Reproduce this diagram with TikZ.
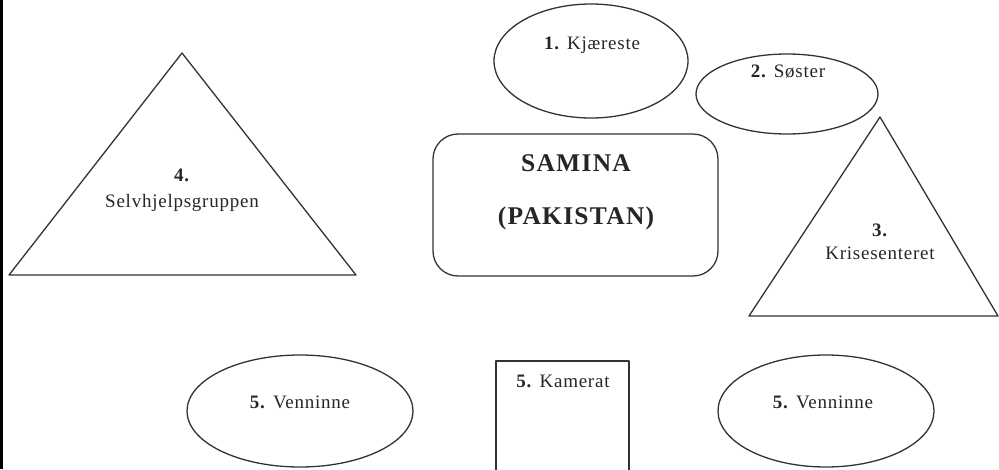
\documentclass[tikz,border=0pt]{standalone}
\usepackage{fontspec}
\setmainfont{Liberation Serif}
\newfontfamily\lblfont[LetterSpace=4]{Liberation Serif}
\newfontfamily\bigfont[LetterSpace=5]{Liberation Serif}
\begin{document}
\begin{tikzpicture}[x=1pt,y=-1pt,
  shapeline/.style={draw=black!80,line width=1.3pt,line join=round},
  lbl/.style={font=\lblfont\fontsize{19}{21}\selectfont,inner sep=0pt,text=black!85},
  biglbl/.style={font=\bigfont\fontsize{25.5}{29}\selectfont\bfseries,inner sep=0pt,text=black!85}]
\useasboundingbox (0,0) rectangle (999,469);
\clip (0,0) rectangle (999,469);
\fill[white] (0,0) rectangle (999,469);
% dark strip along the left edge
\fill[black] (0,0) rectangle (3,469);

% 4. triangle
\draw[shapeline] (182,53) -- (356,275) -- (9,275) -- cycle;
\node[lbl] (n4a) at (182,175) {\textbf{4.}};
\node[lbl] (n4b) at (182,203) {Selvhjelpsgruppen};

% 1. ellipse
\draw[shapeline] (591,61) ellipse [x radius=97,y radius=57];
\node[lbl] (n1) at (592,45) {\textbf{1.} Kjæreste};

% 2. ellipse
\draw[shapeline] (787,94) ellipse [x radius=91,y radius=40];
\node[lbl] (n2) at (788,72) {\textbf{2.} Søster};

% centre box
\draw[shapeline,rounded corners=25] (433,134) rectangle (718,276);
\node[biglbl] (sam) at (576,163) {SAMINA};
\node[biglbl] (pak) at (576,218) {(PAKISTAN)};

% 3. triangle
\draw[shapeline] (880,117) -- (998,316) -- (749,316) -- cycle;
\node[lbl] (n3a) at (880,230) {\textbf{3.}};
\node[lbl] (n3b) at (880,253) {Krisesenteret};

% 5. lower row
\draw[shapeline] (300,411) ellipse [x radius=113,y radius=56];
\node[lbl] (n5a) at (300,402) {\textbf{5.} Venninne};
\draw[shapeline] (496,361) rectangle (629,480);
\node[lbl] (n5b) at (563,381) {\textbf{5.} Kamerat};
\draw[shapeline] (826,411) ellipse [x radius=108,y radius=56];
\node[lbl] (n5c) at (823,402) {\textbf{5.} Venninne};
\end{tikzpicture}
\end{document}
